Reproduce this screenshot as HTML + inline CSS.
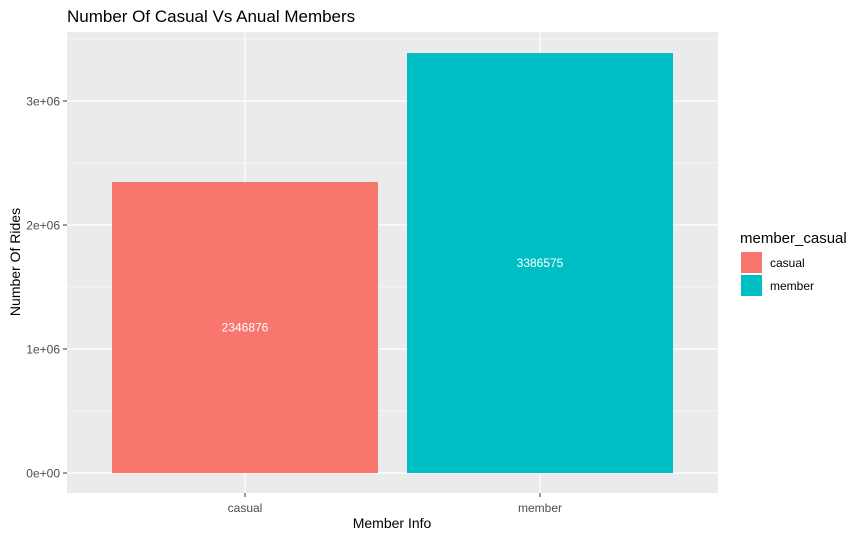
<!DOCTYPE html>
<html><head><meta charset="utf-8"><style>
body{margin:0;background:#fff;font-family:"Liberation Sans",Arial,sans-serif}
</style></head><body>
<svg id="chart" width="861" height="539" xmlns="http://www.w3.org/2000/svg" font-family="Liberation Sans, Arial, sans-serif">
<text x="67" y="22" font-size="17" fill="#000">Number Of Casual Vs Anual Members</text>
<rect x="67" y="32" width="651" height="461" fill="#ebebeb"/>
<g id="grid"></g>
<g id="bars"></g>
<g id="axes"></g>
<text x="392" y="528" font-size="14" text-anchor="middle" fill="#000">Member Info</text>
<text transform="translate(20,262) rotate(-90)" font-size="14" text-anchor="middle" fill="#000">Number Of Rides</text>
<g>
<text x="740" y="243" font-size="15" fill="#000">member_casual</text>
<rect x="741" y="252" width="21" height="21" fill="#f8766d"/>
<text x="770" y="267" font-size="12" fill="#000">casual</text>
<rect x="741" y="275" width="21" height="21" fill="#00bfc4"/>
<text x="770" y="290" font-size="12" fill="#000">member</text>
</g>
</svg>
<script>
const categories = ["casual", "member"];
const values = [2346876, 3386575];
const colors = ["#f8766d", "#00bfc4"];
const yTicks = [0, 1000000, 2000000, 3000000];
const yTickLabels = ["0e+00", "1e+06", "2e+06", "3e+06"];
const NS = "http://www.w3.org/2000/svg";
const y = v => 473 - v * 124 / 1e6;
const x = i => 245 + i * 295;
function mk(tag, attrs, parent, txt){const e=document.createElementNS(NS,tag);for(const k in attrs)e.setAttribute(k,attrs[k]);if(txt!==undefined)e.textContent=txt;parent.appendChild(e);return e;}
const grid=document.getElementById('grid'), bars=document.getElementById('bars'), axes=document.getElementById('axes');
for(let v=500000; v<3600000; v+=1000000){const yy=y(v); if(yy>32){const l=mk('line',{x1:67,x2:718,y1:yy,y2:yy,stroke:'#fff','stroke-width':0.6},grid);

}}
yTicks.forEach((v,i)=>{const yy=y(v);
const g=mk('line',{x1:67,x2:718,y1:yy,y2:yy,stroke:'#fff','stroke-width':1.2},grid);


const t=mk('line',{x1:63,x2:67,y1:yy,y2:yy,stroke:'#333'},axes);


const lb=mk('text',{x:60,y:yy+4.5,'font-size':12,'text-anchor':'end',fill:'#4d4d4d'},axes,yTickLabels[i]);

});
categories.forEach((c,i)=>{const cx=x(i);
const g=mk('line',{x1:cx,x2:cx,y1:32,y2:493,stroke:'#fff','stroke-width':1.2},grid);


const b=mk('rect',{x:cx-133,y:y(values[i]),width:266,height:y(0)-y(values[i]),fill:colors[i]},bars);


const vl=mk('text',{x:cx,y:(y(values[i])+y(0))/2+4,'font-size':12,'text-anchor':'middle',fill:'#fff'},bars,String(values[i]));


const t=mk('line',{x1:cx,x2:cx,y1:493,y2:497,stroke:'#333'},axes);


const lb=mk('text',{x:cx,y:512,'font-size':12,'text-anchor':'middle',fill:'#4d4d4d'},axes,c);

});
</script>
</body></html>
